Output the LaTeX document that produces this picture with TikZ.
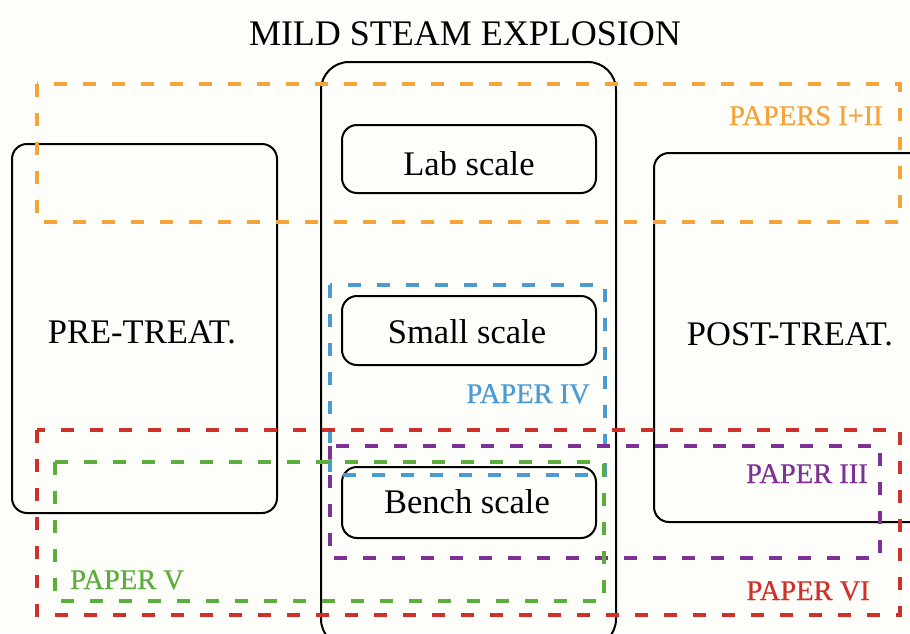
\documentclass[tikz,border=0pt]{standalone}
\usepackage{fontspec}
\setmainfont{Liberation Serif}
\newfontfamily\lblfont[FakeBold=0.6]{Liberation Serif}
\definecolor{bgc}{HTML}{FDFDFA}
\definecolor{cOrange}{HTML}{F4A43A}
\definecolor{cBlue}{HTML}{4A9BD4}
\definecolor{cRed}{HTML}{D0302A}
\definecolor{cPurple}{HTML}{7D3195}
\definecolor{cGreen}{HTML}{5BAE3C}
\begin{document}
\begin{tikzpicture}[x=1pt,y=-1pt,
  box/.style={draw=black, line width=2pt, rounded corners=15pt, inner sep=0pt},
  txt/.style={anchor=base, inner sep=0pt, font=\fontsize{34.5}{40}\selectfont},
  frame/.style={line width=4.5pt, dash pattern=on 13pt off 16pt},
  lbl/.style={anchor=base east, inner sep=0pt, font=\lblfont\fontsize{28.5}{32}\selectfont}]
\useasboundingbox[fill=bgc] (0,0) rectangle (910,633);
\begin{scope}
\clip (0,0) rectangle (910,633);
% boxes
\node[box, rounded corners=28pt, minimum width=295pt, minimum height=585pt] (mse) at (468.5,354.5) {};
\node[box, minimum width=254pt, minimum height=68pt] (lab) at (469,159) {};
\node[box, minimum width=254pt, minimum height=69pt] (small) at (469,330.5) {};
\node[box, minimum width=254pt, minimum height=71pt] (bench) at (469,502.5) {};
\node[box, minimum width=265pt, minimum height=369pt] (pre) at (144.5,328.5) {};
\node[box, minimum width=272pt, minimum height=369pt] (post) at (790,337.5) {};
% texts
\node[txt, font=\fontsize{36}{40}\selectfont] (title) at (465,45) {MILD STEAM EXPLOSION};
\node[txt] (labt) at (469,175) {Lab scale};
\node[txt] (smallt) at (467,343) {Small scale};
\node[txt] (bencht) at (467,513) {Bench scale};
\node[txt] (pret) at (142,343) {PRE-TREAT.};
\node[txt] (postt) at (790,345) {POST-TREAT.};
% dashed frames
\draw[frame, cOrange] (37,84) rectangle (900,222);
\draw[frame, cBlue] (330,285) rectangle (605,475);
\draw[frame, cRed] (37,430) rectangle (900,615);
\draw[frame, cPurple] (330,446) rectangle (880,558);
\draw[frame, cGreen] (55,462) rectangle (604,601);
% labels
\node[lbl, text=cOrange] (p12) at (883,125) {PAPERS I+II};
\node[lbl, text=cBlue] (p4) at (590,403) {PAPER IV};
\node[lbl, text=cPurple] (p3) at (868,483) {PAPER III};
\node[lbl, text=cRed] (p6) at (870,600) {PAPER VI};
\node[lbl, anchor=base west, text=cGreen] (p5) at (70,589) {PAPER V};
\end{scope}
\end{tikzpicture}
\end{document}
